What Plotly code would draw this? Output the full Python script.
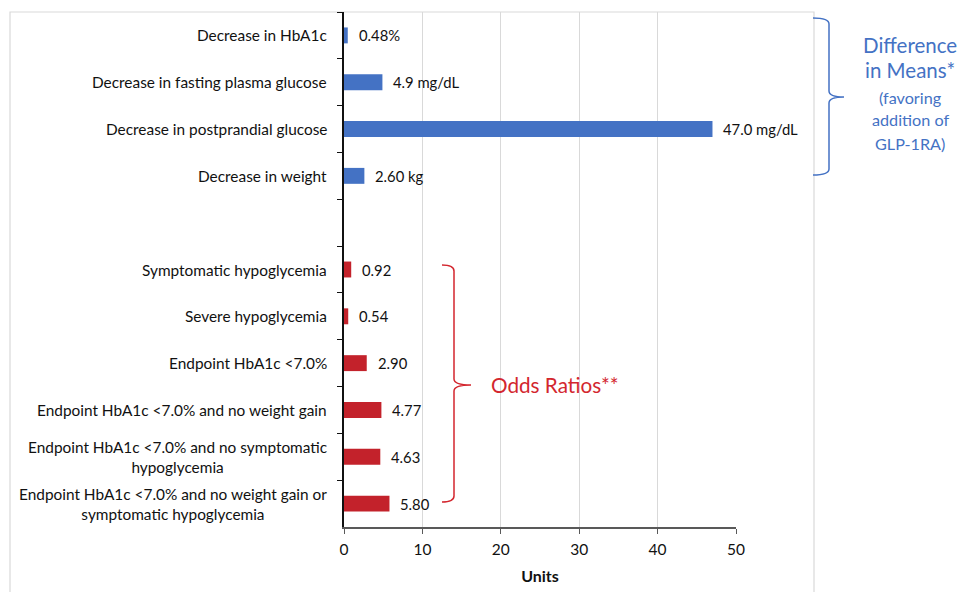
import plotly.graph_objects as go

# Category rows, top to bottom (a blank row separates the two groups)
mean_labels = [
    "Decrease in HbA1c",
    "Decrease in fasting plasma glucose",
    "Decrease in postprandial glucose",
    "Decrease in weight",
]
mean_values = [0.48, 4.9, 47.0, 2.60]
mean_text = ["0.48%", "4.9 mg/dL", "47.0 mg/dL", "2.60 kg"]

odds_labels = [
    "Symptomatic hypoglycemia",
    "Severe hypoglycemia",
    "Endpoint HbA1c &lt;7.0%",
    "Endpoint HbA1c &lt;7.0% and no weight gain",
    "Endpoint HbA1c &lt;7.0% and no symptomatic<br>hypoglycemia",
    "Endpoint HbA1c &lt;7.0% and no weight gain or<br>symptomatic hypoglycemia",
]
odds_values = [0.92, 0.54, 2.90, 4.77, 4.63, 5.80]
odds_text = ["0.92", "0.54", "2.90", "4.77", "4.63", "5.80"]

x_ticks = [0, 10, 20, 30, 40, 50]

BLANK = " "
categories = mean_labels + [BLANK] + odds_labels

FONT = "Lato"
INK = "#111111"
BLUE = "#4472C4"
RED = "#C3222B"
RED_TEXT = "#D3262E"

W, H = 958, 592
L, R, T, B = 344, 736, 12, 527  # plot area in pixels


def px(x):
    return (x - L) / (R - L)


def py(y):
    return (B - y) / (B - T)


fig = go.Figure()
fig.add_trace(go.Bar(
    x=mean_values, y=mean_labels, orientation="h",
    marker=dict(color=BLUE, line=dict(width=0)), width=0.34,
    hoverinfo="x+y",
))
fig.add_trace(go.Bar(
    x=odds_values, y=odds_labels, orientation="h",
    marker=dict(color=RED, line=dict(width=0)), width=0.34,
    hoverinfo="x+y",
))

annotations = []
# value labels just to the right of each bar
for labels, values, texts in ((mean_labels, mean_values, mean_text),
                              (odds_labels, odds_values, odds_text)):
    for lab, v, t in zip(labels, values, texts):
        annotations.append(dict(
            x=v, y=lab, xref="x", yref="y", text=t, showarrow=False,
            xanchor="left", yanchor="middle", xshift=9,
            font=dict(family=FONT, size=14.8, color=INK),
        ))

# category labels, centred line by line, right edge aligned
for lab in mean_labels + odds_labels:
    annotations.append(dict(
        x=0, y=lab, xref="paper", yref="y", text=lab, showarrow=False,
        xanchor="right", yanchor="middle", xshift=-15, align="center",
        font=dict(family=FONT, size=15.4, color=INK),
    ))

# group captions, one line each
for text, y, size in (("Difference", 45, 20.5), ("in Means*", 70, 20.5),
                      ("(favoring", 97, 16.2), ("addition of", 120, 16.2),
                      ("GLP-1RA)", 143, 16.2)):
    annotations.append(dict(
        x=px(910), y=py(y), xref="paper", yref="paper",
        text=text, showarrow=False,
        xanchor="center", yanchor="middle",
        font=dict(family=FONT, size=size, color=BLUE),
    ))
annotations.append(dict(
    x=px(489), y=py(385), xref="paper", yref="paper",
    text="Odds Ratios**", showarrow=False,
    xanchor="left", yanchor="middle",
    font=dict(family=FONT, size=20.7, color=RED_TEXT),
))


def brace(x0, xv, xt, y0, ym, y1):
    """Right-facing curly brace path in paper coordinates."""
    r = 6
    p = (
        f"M {px(x0)},{py(y0)} "
        f"Q {px(xv)},{py(y0)} {px(xv)},{py(y0 + r)} "
        f"L {px(xv)},{py(ym - r)} "
        f"Q {px(xv)},{py(ym)} {px(xt)},{py(ym)} "
        f"Q {px(xv)},{py(ym)} {px(xv)},{py(ym + r)} "
        f"L {px(xv)},{py(y1 - r)} "
        f"Q {px(xv)},{py(y1)} {px(x0)},{py(y1)}"
    )
    return p


shapes = [
    # light outer frame
    dict(type="rect", xref="paper", yref="paper",
         x0=px(10), x1=px(814), y0=py(600), y1=py(12),
         line=dict(color="#d9d9d9", width=1.2), layer="below"),
    dict(type="path", xref="paper", yref="paper",
         path=brace(813, 829, 844, 18, 97, 175),
         line=dict(color=BLUE, width=1.5)),
    dict(type="path", xref="paper", yref="paper",
         path=brace(442, 454, 471, 265, 385, 502),
         line=dict(color=RED_TEXT, width=1.5)),
]

fig.update_layout(
    width=W, height=H,
    margin=dict(l=L, r=W - R, t=T, b=H - B, autoexpand=False),
    paper_bgcolor="white", plot_bgcolor="white",
    showlegend=False,
    barmode="overlay",
    font=dict(family=FONT, size=14, color=INK),
    annotations=annotations,
    shapes=shapes,
    xaxis=dict(
        range=[0, 50], tickvals=x_ticks, ticktext=[str(v) for v in x_ticks],
        showgrid=True, gridcolor="#d9d9d9", gridwidth=1.2,
        zeroline=False, showline=True, linecolor="#595959", linewidth=1.5,
        ticks="outside", ticklen=5, tickcolor="#595959", tickwidth=1.2,
        ticklabelstandoff=3, automargin=False,
        tickfont=dict(family=FONT, size=15.5, color=INK),
        title=dict(text="<b>Units</b>", standoff=13,
                   font=dict(family=FONT, size=16, color=INK)),
        fixedrange=True,
    ),
    yaxis=dict(
        type="category", categoryorder="array", categoryarray=categories,
        autorange="reversed", automargin=False,
        showticklabels=False, showgrid=False, zeroline=False,
        showline=True, linecolor=INK, linewidth=1.5,
        ticks="outside", tickson="boundaries", ticklen=5,
        tickcolor=INK, tickwidth=1.2,
        fixedrange=True,
    ),
)

fig.write_html("out.html")
